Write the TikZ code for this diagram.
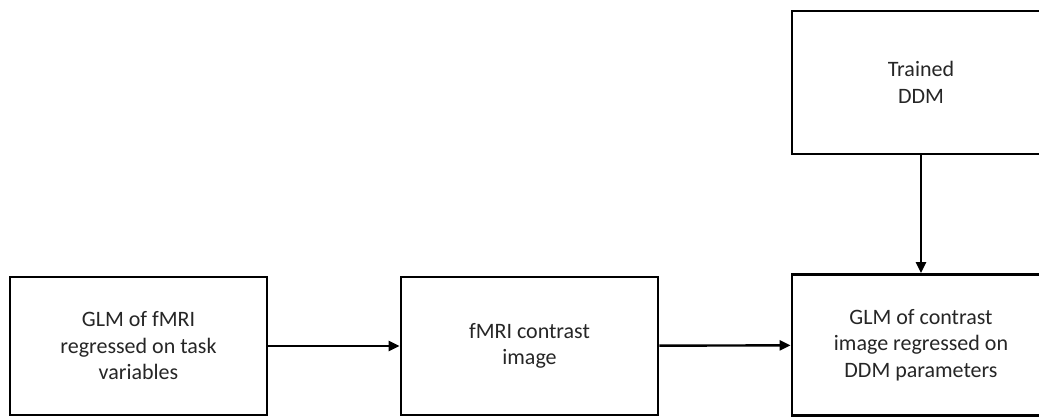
\documentclass[tikz,border=0pt]{standalone}
\usepackage{fontspec}
\setmainfont{Carlito}
\usetikzlibrary{arrows.meta}
\begin{document}
\begin{tikzpicture}[x=1pt,y=-1pt,
  box/.style={draw=black, line width=2.8pt, rectangle, inner sep=0pt, align=center,
    minimum width=257pt, font=\fontsize{22}{26.5}\selectfont, text=black!85},
  conn/.style={line width=2.4pt, -{Triangle[length=11pt,width=10pt]}}]
\useasboundingbox (0,0) rectangle (1039,417);
\clip (0,0) rectangle (1039,417);
\fill[white] (0,0) rectangle (1039,417);
\node[box, minimum height=138pt] (glm1) at (138.5,346) {GLM of fMRI\\regressed on task\\variables};
\node[box, minimum height=138pt] (con) at (529.5,346) {fMRI contrast\\image};
\node[box, minimum height=141pt, minimum width=258pt] (glm2) at (921,345) {GLM of contrast\\image regressed on\\DDM parameters};
\node[box, minimum height=143pt, minimum width=258pt] (ddm) at (921,82.5) {Trained\\DDM};
\draw[conn] (glm1) -- (con);
\draw[conn] (con) -- (glm2);
\draw[conn] (ddm) -- (glm2);
\end{tikzpicture}
\end{document}
